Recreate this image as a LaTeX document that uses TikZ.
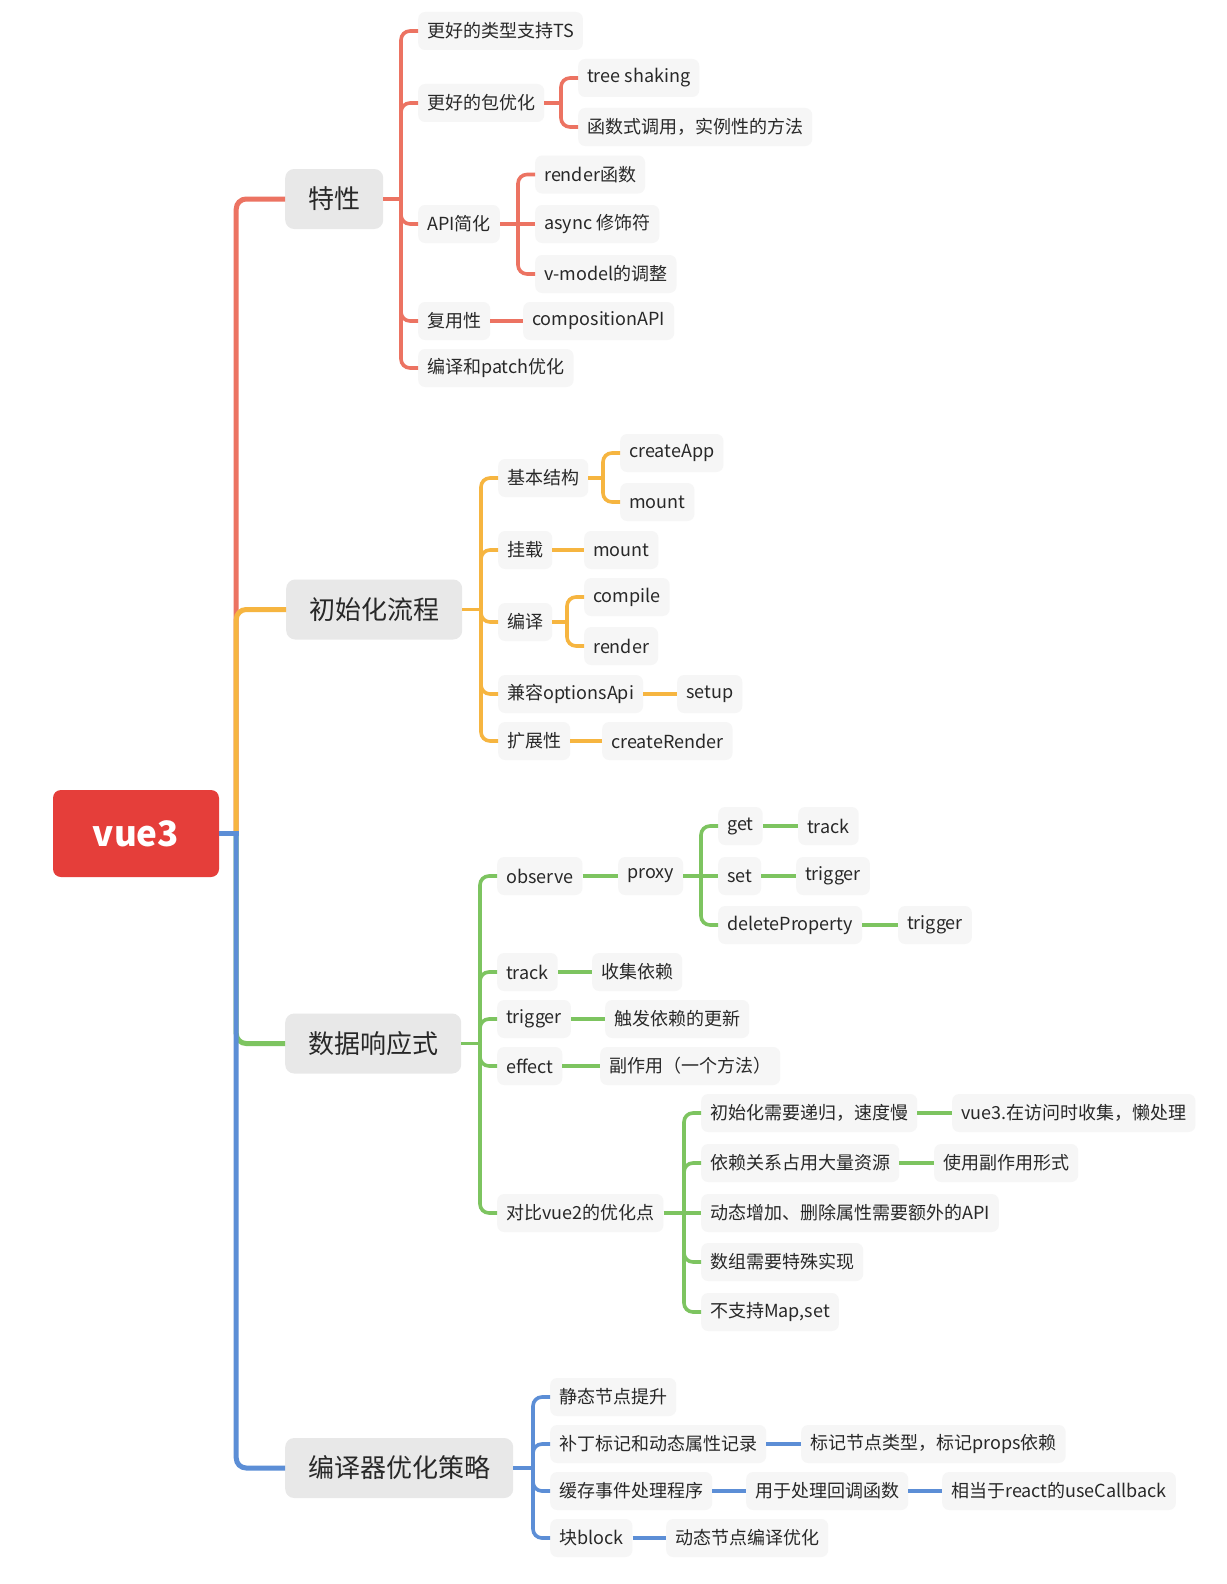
\documentclass[tikz,border=0pt]{standalone}
\usepackage{fontspec}
\setmainfont{Noto Sans CJK SC}
\usetikzlibrary{calc}
\definecolor{cred}{RGB}{236,115,98}
\definecolor{corange}{RGB}{246,181,64}
\definecolor{cgreen}{RGB}{125,196,96}
\definecolor{cblue}{RGB}{92,142,214}
\definecolor{croot}{RGB}{229,62,58}
\definecolor{cmain}{RGB}{232,232,232}
\definecolor{cleaf}{RGB}{246,246,246}
\definecolor{ctext}{RGB}{40,40,40}
\newcommand\lffont{\fontsize{18}{22}\selectfont}
\newcommand\mtfont{\fontsize{26}{30}\selectfont}
\newcommand\rtfont{\fontsize{35}{40}\selectfont\bfseries}
\newcommand\junc[3]{\coordinate (#2J) at ($(#2.east -| #3.west)+(-17,0)$);\draw[#1,sub] (#2.east) -- (#2J);}
\newcommand\brc[3]{\draw[#1,sub,rounded corners=9pt] (#2J) -- (#2J |- #3.west) -- (#3.west);}
\newcommand\brs[3]{\draw[#1,sub] (#2J) -- (#3.west);}
\newcommand\lnk[3]{\draw[#1,sub] (#2.east) -- (#3.west);}
\begin{document}
\begin{tikzpicture}[x=1pt,y=-1pt,
  leaf/.style={fill=cleaf, rounded corners=7pt, text=ctext, font=\lffont, inner xsep=9pt, inner ysep=0pt, minimum height=38pt, anchor=west},
  topic/.style={fill=cmain, rounded corners=9pt, text=ctext, font=\mtfont, inner xsep=23pt, inner ysep=0pt, minimum height=60pt, anchor=west},
  rootbox/.style={fill=croot, rounded corners=8pt, text=white, font=\rtfont, minimum width=166pt, minimum height=87pt, inner sep=0pt},
  trunk/.style={line width=5pt},
  sub/.style={line width=3.6pt}]
\fill[white] (0,0) rectangle (1226,1584);
\useasboundingbox (0,0) rectangle (1226,1584);

% root
\node[rootbox] (r) at (136,833.5) {vue3};

% main topics
\node[topic] (t) at (285,199) {特性};
\node[topic] (i) at (286,609.5) {初始化流程};
\node[topic] (d) at (285,1043.5) {数据响应式};
\node[topic] (c) at (285,1468) {编译器优化策略};

% red subtree
\node[leaf] (t1) at (418,31) {更好的类型支持TS};
\node[leaf] (t2) at (418,103) {更好的包优化};
\node[leaf] (t21) at (578,78) {tree shaking};
\node[leaf] (t22) at (578,127) {函数式调用，实例性的方法};
\node[leaf] (t3) at (418,224) {API简化};
\node[leaf] (t31) at (535,174.5) {render函数};
\node[leaf] (t32) at (535,224) {async 修饰符};
\node[leaf] (t33) at (535,274) {v-model的调整};
\node[leaf] (t4) at (418,321) {复用性};
\node[leaf] (t41) at (523,321) {compositionAPI};
\node[leaf] (t5) at (418,368) {编译和patch优化};

% orange subtree
\node[leaf] (i1) at (498,478) {基本结构};
\node[leaf] (i11) at (620,453) {createApp};
\node[leaf] (i12) at (620,502) {mount};
\node[leaf] (i2) at (498,550) {挂载};
\node[leaf] (i21) at (584,550) {mount};
\node[leaf] (i3) at (498,622) {编译};
\node[leaf] (i31) at (584,597) {compile};
\node[leaf] (i32) at (584,646) {render};
\node[leaf] (i4) at (498,694) {兼容optionsApi};
\node[leaf] (i41) at (677,694) {setup};
\node[leaf] (i5) at (498,741) {扩展性};
\node[leaf] (i51) at (602,741) {createRender};

% green subtree
\node[leaf] (d1) at (497,876) {observe};
\node[leaf] (d11) at (618,876) {proxy};
\node[leaf] (d111) at (718,826) {get};
\node[leaf] (d1111) at (798,826) {track};
\node[leaf] (d112) at (718,876) {set};
\node[leaf] (d1121) at (796,876) {trigger};
\node[leaf] (d113) at (718,925) {deleteProperty};
\node[leaf] (d1131) at (898,925) {trigger};
\node[leaf] (d2) at (497,972) {track};
\node[leaf] (d21) at (592,972) {收集依赖};
\node[leaf] (d3) at (497,1019) {trigger};
\node[leaf] (d31) at (605,1019) {触发依赖的更新};
\node[leaf] (d4) at (497,1066) {effect};
\node[leaf] (d41) at (600,1066) {副作用（一个方法）};
\node[leaf] (d5) at (497,1213) {对比vue2的优化点};
\node[leaf] (d51) at (701,1113) {初始化需要递归，速度慢};
\node[leaf] (d511) at (952,1113) {vue3.在访问时收集，懒处理};
\node[leaf] (d52) at (701,1163) {依赖关系占用大量资源};
\node[leaf] (d521) at (934,1163) {使用副作用形式};
\node[leaf] (d53) at (701,1213) {动态增加、删除属性需要额外的API};
\node[leaf] (d54) at (701,1262) {数组需要特殊实现};
\node[leaf] (d55) at (701,1312) {不支持Map,set};

% blue subtree
\node[leaf] (c1) at (550,1397) {静态节点提升};
\node[leaf] (c2) at (550,1444) {补丁标记和动态属性记录};
\node[leaf] (c21) at (801,1444) {标记节点类型，标记props依赖};
\node[leaf] (c3) at (550,1491) {缓存事件处理程序};
\node[leaf] (c31) at (746,1491) {用于处理回调函数};
\node[leaf] (c32) at (942,1491) {相当于react的useCallback};
\node[leaf] (c4) at (550,1538) {块block};
\node[leaf] (c41) at (666,1538) {动态节点编译优化};

% root connectors
\coordinate (rJ) at ($(r.east)+(17,0)$);
\draw[cred,trunk,rounded corners=10pt] (rJ) -- (rJ |- t.west) -- (t.west);
\draw[corange,trunk,rounded corners=10pt] (rJ) -- (rJ |- i.west) -- (i.west);
\draw[cgreen,trunk,rounded corners=10pt] (rJ) -- (rJ |- d.west) -- (d.west);
\draw[cblue,trunk,rounded corners=10pt] (rJ) -- (rJ |- c.west) -- (c.west);
\draw[cblue,trunk] (r.east) -- ($(rJ)+(2.5,0)$);

% red connectors
\junc{cred}{t}{t1}
\brc{cred}{t}{t1}\brc{cred}{t}{t2}\brc{cred}{t}{t3}\brc{cred}{t}{t4}\brc{cred}{t}{t5}
\junc{cred}{t2}{t21}
\brc{cred}{t2}{t21}\brc{cred}{t2}{t22}
\junc{cred}{t3}{t31}
\brc{cred}{t3}{t31}\brs{cred}{t3}{t32}\brc{cred}{t3}{t33}
\lnk{cred}{t4}{t41}

% orange connectors
\junc{corange}{i}{i1}
\brc{corange}{i}{i1}\brc{corange}{i}{i2}\brc{corange}{i}{i3}\brc{corange}{i}{i4}\brc{corange}{i}{i5}
\junc{corange}{i1}{i11}
\brc{corange}{i1}{i11}\brc{corange}{i1}{i12}
\lnk{corange}{i2}{i21}
\junc{corange}{i3}{i31}
\brc{corange}{i3}{i31}\brc{corange}{i3}{i32}
\lnk{corange}{i4}{i41}
\lnk{corange}{i5}{i51}

% green connectors
\junc{cgreen}{d}{d1}
\brc{cgreen}{d}{d1}\brc{cgreen}{d}{d2}\brc{cgreen}{d}{d3}\brc{cgreen}{d}{d4}\brc{cgreen}{d}{d5}
\lnk{cgreen}{d1}{d11}
\junc{cgreen}{d11}{d111}
\brc{cgreen}{d11}{d111}\brs{cgreen}{d11}{d112}\brc{cgreen}{d11}{d113}
\lnk{cgreen}{d111}{d1111}
\lnk{cgreen}{d112}{d1121}
\lnk{cgreen}{d113}{d1131}
\lnk{cgreen}{d2}{d21}
\lnk{cgreen}{d3}{d31}
\lnk{cgreen}{d4}{d41}
\junc{cgreen}{d5}{d51}
\brc{cgreen}{d5}{d51}\brc{cgreen}{d5}{d52}\brs{cgreen}{d5}{d53}\brc{cgreen}{d5}{d54}\brc{cgreen}{d5}{d55}
\lnk{cgreen}{d51}{d511}
\lnk{cgreen}{d52}{d521}

% blue connectors
\junc{cblue}{c}{c1}
\brc{cblue}{c}{c1}\brc{cblue}{c}{c2}\brc{cblue}{c}{c3}\brc{cblue}{c}{c4}
\lnk{cblue}{c2}{c21}
\lnk{cblue}{c3}{c31}
\lnk{cblue}{c31}{c32}
\lnk{cblue}{c4}{c41}
\end{tikzpicture}
\end{document}
